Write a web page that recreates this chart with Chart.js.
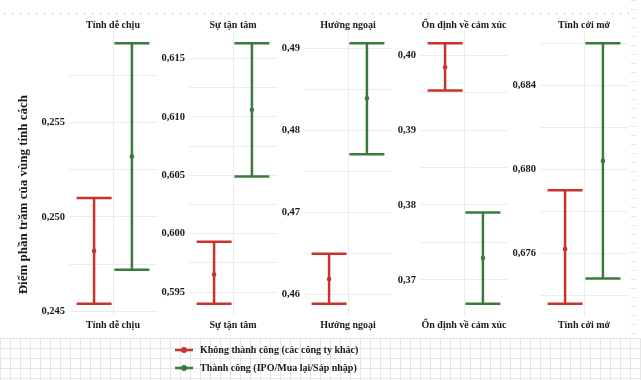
<!DOCTYPE html>
<html>
<head>
<meta charset="utf-8">
<script src="https://cdn.jsdelivr.net/npm/chart.js@4"></script>
<style>
html,body{margin:0;padding:0;background:#fff;}
#wrap{position:relative;width:641px;height:380px;overflow:hidden;background:#fff;}
#paper{position:absolute;left:0;top:338px;width:641px;height:42px;
  background-image:linear-gradient(to right,#e6e6e6 1px,transparent 1px),linear-gradient(to bottom,#e6e6e6 1px,transparent 1px);
  background-size:10px 10px;}
#dash{position:absolute;left:4px;top:12px;width:628px;height:3px;
  background-image:repeating-linear-gradient(to right,#dcdcdc 0 1px,transparent 1px 8px);}
#vdash{position:absolute;left:631px;top:0;width:4px;height:338px;
  background-image:repeating-linear-gradient(to bottom,#e2e2e2 0 1px,transparent 1px 9px);}
canvas{position:absolute;}
</style>
</head>
<body>
<div id="wrap">
  <div id="paper"></div>
  <div id="dash"></div>
  <div id="vdash"></div>
</div>
<script>
// ---------- DATA ----------
const traits = ['Tính dễ chịu', 'Sự tận tâm', 'Hướng ngoại', 'Ổn định về cảm xúc', 'Tính cởi mở'];
const seriesNames = ['Không thành công (các công ty khác)', 'Thành công (IPO/Mua lại/Sáp nhập)'];
const yAxisTitle = 'Điểm phần trăm của vùng tính cách';

const failMean = [0.2482, 0.5965, 0.4619, 0.3984, 0.6762];
const failLow  = [0.2454, 0.5940, 0.4589, 0.3953, 0.6736];
const failHigh = [0.2510, 0.5993, 0.4650, 0.4016, 0.6790];

const succMean = [0.2532, 0.6106, 0.4839, 0.3729, 0.6804];
const succLow  = [0.2472, 0.6049, 0.4771, 0.3668, 0.6748];
const succHigh = [0.2592, 0.6163, 0.4906, 0.3790, 0.6860];

const majorTicks = [
  [0.245, 0.250, 0.255],
  [0.595, 0.600, 0.605, 0.610, 0.615],
  [0.46, 0.47, 0.48, 0.49],
  [0.37, 0.38, 0.39, 0.40],
  [0.676, 0.680, 0.684]
];
const minorTicks = [
  [0.2475, 0.2525, 0.2575],
  [0.5975, 0.6025, 0.6075, 0.6125],
  [0.465, 0.475, 0.485],
  [0.375, 0.385, 0.395],
  [0.674, 0.678, 0.682, 0.686]
];
const tickDecimals = [3, 3, 2, 2, 3];

// ---------- STYLE / LAYOUT ----------
const RED = '#C8322F';
const GREEN = '#3B7A3B';
const TEXT = '#1a1a1a';
const GRID = '#ececec';
const FAMILY = '"Liberation Serif", "Times New Roman", serif';
const panelLayout = [
  {left: 0,   width: 157, yw: 69},
  {left: 157, width: 120, yw: 32},
  {left: 277, width: 115, yw: 27},
  {left: 392, width: 116, yw: 28},
  {left: 508, width: 120, yw: 32}
];
const CANVAS_H = 334;
const DODGE = 0.43;
const EXPAND = 0.047;

const wrap = document.getElementById('wrap');

function makeCanvas(left, top, w, h) {
  const c = document.createElement('canvas');
  c.width = w; c.height = h;
  c.style.left = left + 'px'; c.style.top = top + 'px';
  c.style.width = w + 'px'; c.style.height = h + 'px';
  wrap.appendChild(c);
  return c;
}

function whisker(x, low, high, color) {
  return {
    type: 'line',
    data: [{x: x, y: low}, {x: x, y: high}],
    borderColor: color, borderWidth: 2.5, fill: false, tension: 0,
    pointStyle: 'line', pointRadius: 17.5, pointHoverRadius: 17.5,
    pointBorderColor: color, pointBorderWidth: 2.5, pointBackgroundColor: color
  };
}
function meanPoint(x, m, color) {
  return {
    type: 'scatter',
    data: [{x: x, y: m}],
    pointStyle: 'circle', pointRadius: 2.3, pointHoverRadius: 2.3,
    backgroundColor: color, borderColor: color, borderWidth: 0
  };
}

traits.forEach((trait, i) => {
  const L = panelLayout[i];
  const cv = makeCanvas(L.left, 0, L.width, CANVAS_H);
  const lo = Math.min(failLow[i], succLow[i]);
  const hi = Math.max(failHigh[i], succHigh[i]);
  const pad = (hi - lo) * EXPAND;
  const majors = majorTicks[i];
  const allTicks = majors.concat(minorTicks[i]).sort((a, b) => a - b);
  const dec = tickDecimals[i];
  const axisTitleFont = {family: FAMILY, size: 10, weight: 'bold'};

  new Chart(cv, {
    type: 'line',
    data: {
      datasets: [
        whisker(-DODGE, failLow[i], failHigh[i], RED),
        whisker(DODGE, succLow[i], succHigh[i], GREEN),
        meanPoint(-DODGE, failMean[i], RED),
        meanPoint(DODGE, succMean[i], GREEN)
      ]
    },
    options: {
      responsive: false,
      animation: false,
      events: [],
      layout: {padding: 0, autoPadding: false},
      plugins: {legend: {display: false}, tooltip: {enabled: false}, title: {display: false}},
      scales: {
        x: {
          type: 'linear', min: -1, max: 1, position: 'bottom',
          afterBuildTicks: s => { s.ticks = [{value: 0}]; },
          ticks: {display: false},
          grid: {color: GRID, lineWidth: 1, drawTicks: false},
          border: {display: false},
          title: {display: true, text: trait, font: axisTitleFont, color: TEXT, padding: {top: 0, bottom: 3}},
          afterFit: s => { s.height = 18; }
        },
        xTop: {
          type: 'linear', min: -1, max: 1, position: 'top',
          ticks: {display: false},
          grid: {display: false, drawTicks: false},
          border: {display: false},
          title: {display: true, text: trait, font: axisTitleFont, color: TEXT, padding: {top: 19, bottom: 0}},
          afterFit: s => { s.height = 31; }
        },
        y: {
          type: 'linear', min: lo - pad, max: hi + pad,
          afterBuildTicks: s => { s.ticks = allTicks.map(v => ({value: v})); },
          ticks: {
            autoSkip: false, padding: 4, color: TEXT,
            font: {family: FAMILY, size: 10.5, weight: 'bold'},
            callback: v => majors.some(m => Math.abs(m - v) < 1e-9) ? v.toFixed(dec).replace('.', ',') : ''
          },
          grid: {color: GRID, lineWidth: 1, drawTicks: false},
          border: {display: false},
          title: i === 0 ? {
            display: true,
            text: yAxisTitle + '             ',
            font: {family: FAMILY, size: 13, weight: 'bold'},
            color: TEXT,
            padding: {top: 16, bottom: 0}
          } : {display: false},
          afterFit: s => { s.width = L.yw; }
        }
      }
    }
  });
});

// ---------- LEGEND ----------
function markerImage(color) {
  const c = document.createElement('canvas');
  c.width = 18; c.height = 8;
  const g = c.getContext('2d');
  g.strokeStyle = color; g.lineWidth = 2.5;
  g.beginPath(); g.moveTo(0, 4); g.lineTo(18, 4); g.stroke();
  g.fillStyle = color;
  g.beginPath(); g.arc(9, 4, 3, 0, Math.PI * 2); g.fill();
  return c;
}
const seriesColors = [RED, GREEN];
const markers = seriesColors.map(markerImage);
const lc = makeCanvas(165, 337, 270, 110);
new Chart(lc, {
  type: 'line',
  data: {
    datasets: seriesNames.map((n, k) => ({label: n, data: [], borderColor: seriesColors[k], backgroundColor: seriesColors[k]}))
  },
  options: {
    responsive: false, animation: false, events: [],
    layout: {padding: 0},
    scales: {x: {display: false}, y: {display: false}},
    plugins: {
      tooltip: {enabled: false},
      legend: {
        display: true, position: 'top', align: 'start',
        labels: {
          usePointStyle: true, pointStyleWidth: 22, boxHeight: 8, padding: 8,
          font: {family: FAMILY, size: 10, weight: 'bold'}, color: TEXT,
          generateLabels: ch => ch.data.datasets.map((d, k) => ({
            text: d.label, fillStyle: d.backgroundColor, strokeStyle: d.borderColor,
            lineWidth: 0, pointStyle: markers[k], hidden: false, datasetIndex: k, fontColor: TEXT
          }))
        }
      }
    }
  }
});
</script>
</body>
</html>
